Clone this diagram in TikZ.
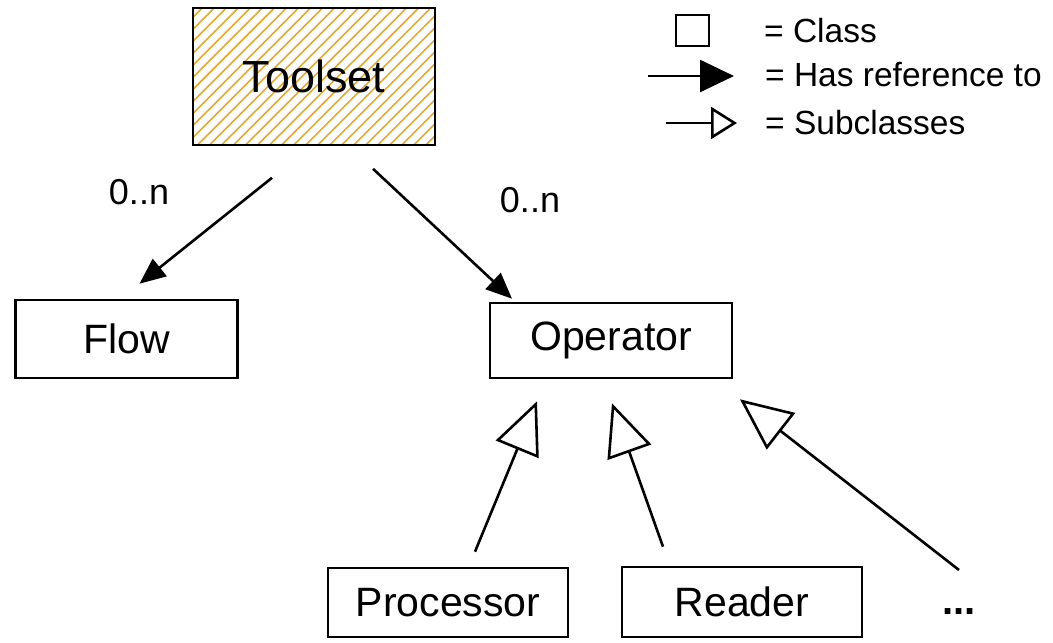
\documentclass[tikz,border=0pt]{standalone}
\usepackage{fontspec}
\setmainfont{Liberation Sans}
\usetikzlibrary{arrows.meta,patterns.meta,calc}
\definecolor{hatch}{RGB}{230,168,48}
\begin{document}
\begin{tikzpicture}[x=1pt,y=-1pt,
  box/.style={draw, line width=2.6pt, inner sep=0pt, font=\fontsize{41}{44}\selectfont},
  lbl/.style={inner sep=0pt, font=\fontsize{36}{40}\selectfont},
  legtxt/.style={anchor=west, inner sep=0pt, font=\fontsize{33.5}{36}\selectfont},
  refarrow/.style={line width=2.6pt, -{Triangle[length=26pt,width=22pt]}},
  subarrow/.style={line width=2.6pt, -{Triangle[open,length=52pt,width=46pt,line width=2.6pt]}},
  legref/.style={line width=2.6pt, -{Triangle[length=34pt,width=32pt]}},
  legsub/.style={line width=2.6pt, -{Triangle[open,length=26pt,width=32pt,line width=2.6pt]}}
]
\fill[white] (0,0) rectangle (1053,643);
\useasboundingbox (0,0) rectangle (1053,643);

% class boxes
\node[box, minimum width=242pt, minimum height=137pt,
      pattern={Lines[angle=45,distance=8.5pt,line width=1.6pt]}, pattern color=hatch,
      font=\fontsize{45}{48}\selectfont]
      (toolset) at (314,76.5) {Toolset};
\node[box, minimum width=222pt, minimum height=78pt] (flow) at (126.5,339) {Flow};
\node[box, minimum width=242pt, minimum height=75pt] (operator) at (611,340.5) {Operator};
\node[box, minimum width=240pt, minimum height=69pt] (processor) at (448,602.5) {Processor};
\node[box, minimum width=240pt, minimum height=70pt] (reader) at (742,602) {Reader};
\node[lbl, font=\bfseries\fontsize{40}{44}\selectfont] (more) at (959,612) {...};

% multiplicity labels
\node[lbl] (m1) at (139,192) {0..n};
\node[lbl] (m2) at (530,200) {0..n};

% reference arrows
\coordinate (tf) at ($(toolset.south)+(-42,32)$);
\coordinate (to) at ($(toolset.south)+(59,23)$);
\coordinate (fe) at ($(flow.north)+(13,-15)$);
\coordinate (oe) at ($(operator.north)+(-99,-3)$);
\draw[refarrow] (tf) -- (fe);
\draw[refarrow] (to) -- (oe);

% subclass arrows
\coordinate (ps) at ($(processor.north)+(27,-15)$);
\coordinate (rs) at ($(reader.north)+(-79,-19)$);
\coordinate (ms) at ($(more)+(0,-42)$);
\coordinate (op1) at ($(operator.south)+(-74,22)$);
\coordinate (op2) at ($(operator.south)+(1,24)$);
\coordinate (op3) at ($(operator.south)+(129,20)$);
\draw[subarrow] (ps) -- (op1);
\draw[subarrow] (rs) -- (op2);
\draw[subarrow] (ms) -- (op3);

% legend
\node[draw, line width=2.6pt, minimum width=33pt, minimum height=31pt, inner sep=0pt] (legclass) at (692.5,30.5) {};
\node[legtxt] (lt1) at (764,31) {= Class};
\coordinate (la1) at (648,76);
\coordinate (la2) at (734,76);
\draw[legref] (la1) -- (la2);
\node[legtxt] (lt2) at (765,75) {= Has reference to};
\coordinate (lb1) at (666,123);
\coordinate (lb2) at (737,123);
\draw[legsub] (lb1) -- (lb2);
\node[legtxt] (lt3) at (765,123) {= Subclasses};
\end{tikzpicture}
\end{document}
